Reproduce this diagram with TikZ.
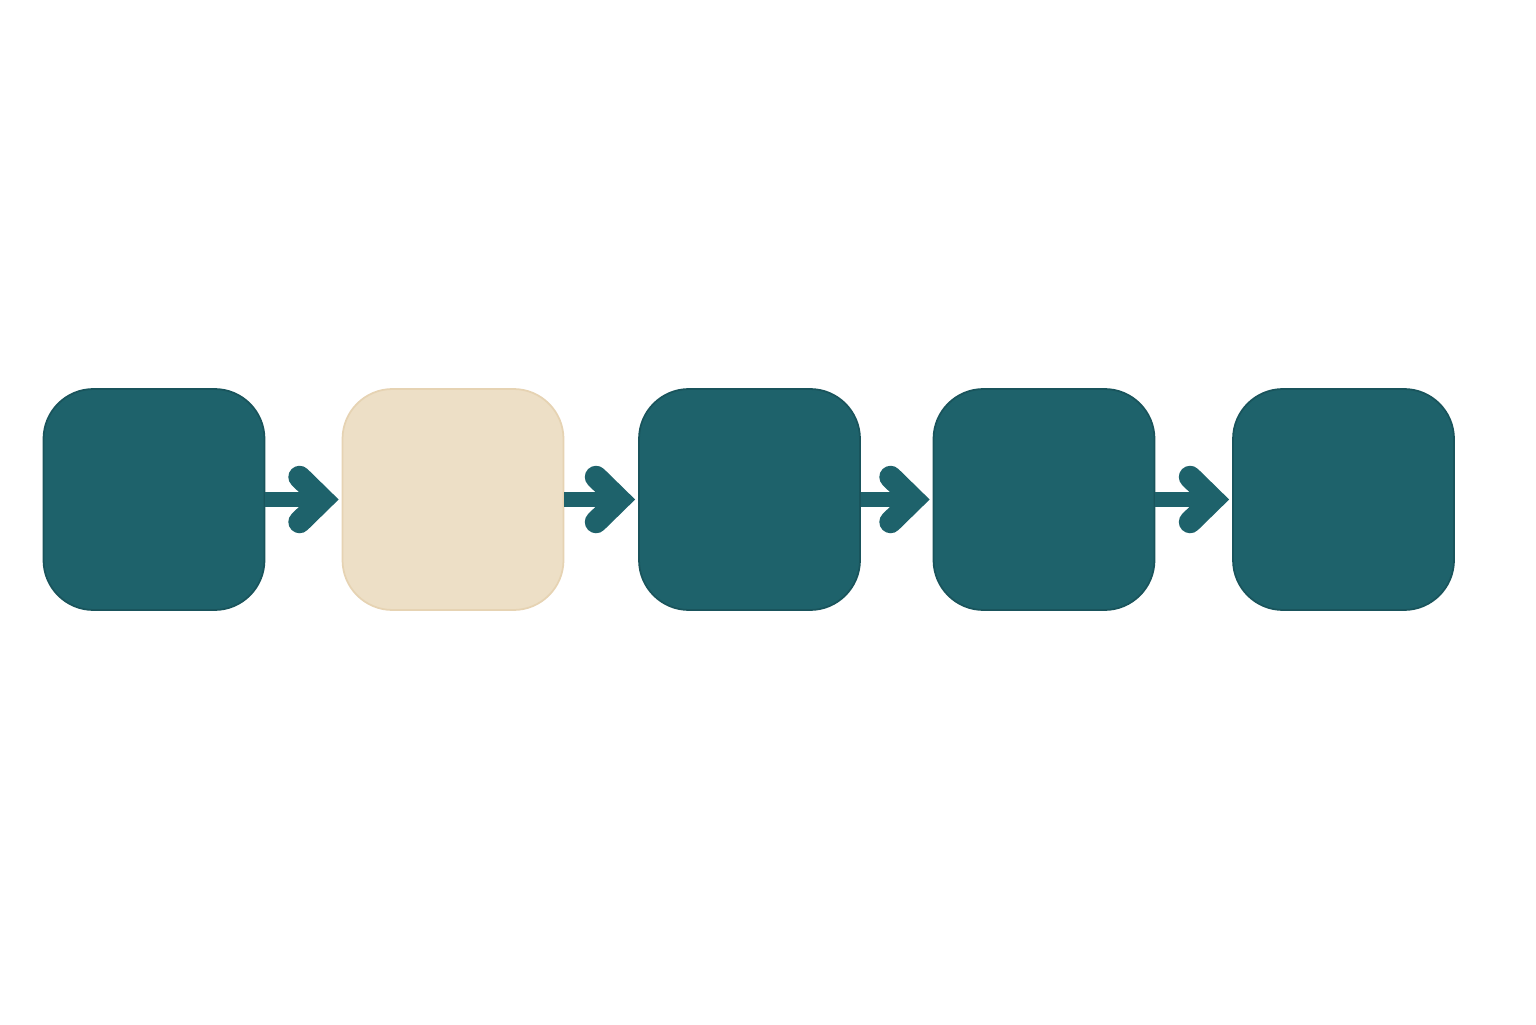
\documentclass[tikz,border=0pt]{standalone}
\usetikzlibrary{arrows.meta}
\definecolor{petrol}{HTML}{1E626B}
\definecolor{petroldark}{HTML}{19545C}
\definecolor{sable}{HTML}{EDDFC6}
\definecolor{sabledark}{HTML}{E6D3B3}
\begin{document}
\begin{tikzpicture}[
  etape/.style={minimum width=2.21cm, minimum height=2.21cm, inner sep=0pt,
    rounded corners=0.5cm, line width=0.5pt, fill=petrol, draw=petroldark},
  actif/.style={etape, fill=sable, draw=sabledark},
  fleche/.style={line width=4pt, color=petrol, shorten >=0.3mm,
    -{Straight Barb[length=2.3mm,width=4.5mm,line width=2.4pt 1,line cap=round,line join=miter]}}
]
\useasboundingbox (0,0) rectangle (15.36,10.24);

% etapes
 \node[etape] (e1) at (1.54,5.245) {};
 \node[actif] (e2) at (4.53,5.245) {};
 \node[etape] (e3) at (7.495,5.245) {};
 \node[etape] (e4) at (10.44,5.245) {};
 \node[etape] (e5) at (13.435,5.245) {};

% fleches
 \draw[fleche] (e1.east)--(e2.west);
 \draw[fleche] (e2.east)--(e3.west);
 \draw[fleche] (e3.east)--(e4.west);
 \draw[fleche] (e4.east)--(e5.west);
\end{tikzpicture}
\end{document}
